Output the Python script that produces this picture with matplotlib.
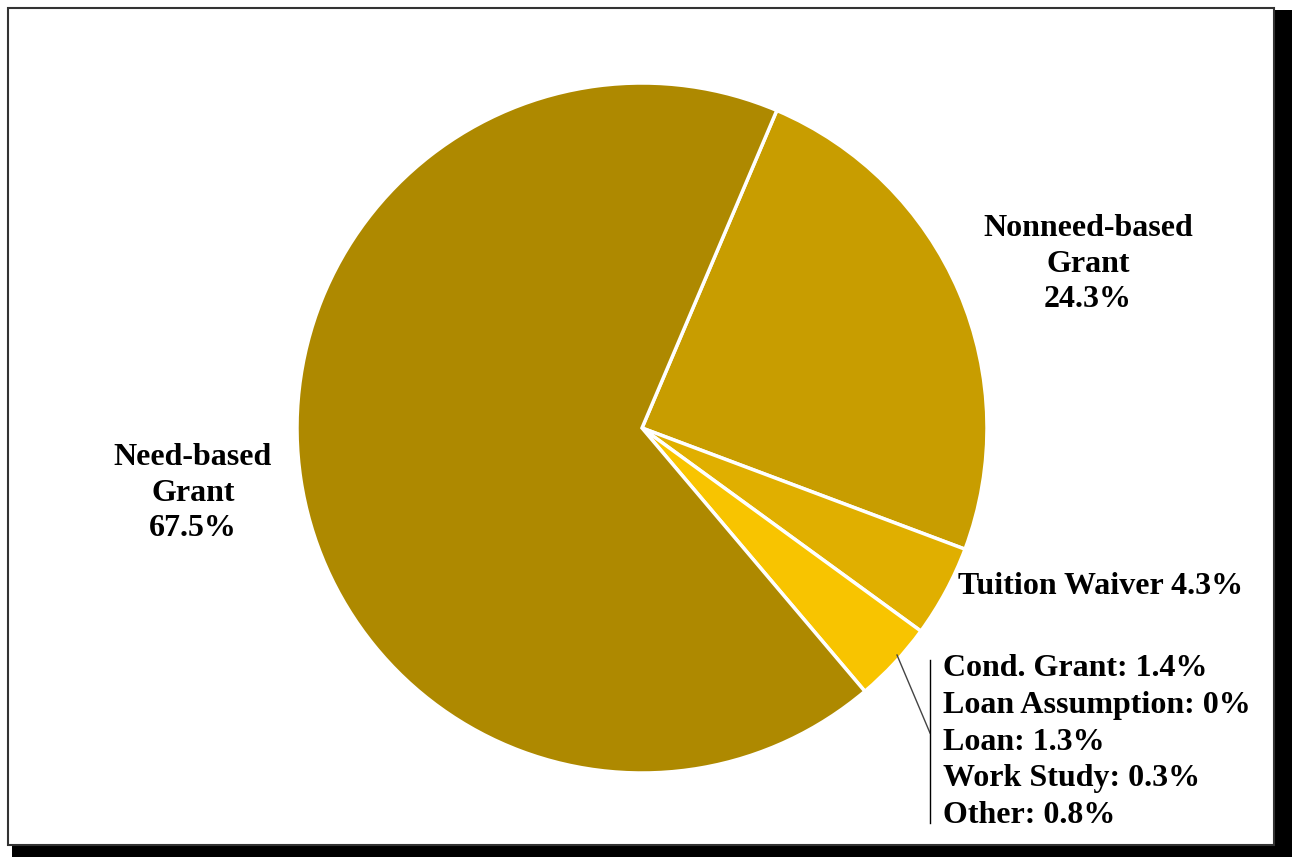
import matplotlib
matplotlib.use("Agg")
import matplotlib.pyplot as plt
from matplotlib.patches import Rectangle

# slices, going clockwise from the Nonneed-based wedge
slice_names = ["Nonneed-based Grant", "Tuition Waiver", "Small items", "Need-based Grant"]
slice_values = [24.3, 4.3, 3.8, 67.5]
slice_colors = ["#C89D00", "#E0AF00", "#F8C400", "#AE8900"]

small_labels = ["Cond. Grant", "Loan Assumption", "Loan", "Work Study", "Other"]
small_values = ["1.4%", "0%", "1.3%", "0.3%", "0.8%"]

W, H = 1293, 857
plt.rcParams['font.family'] = ['Liberation Serif', 'DejaVu Serif']

fig = plt.figure(figsize=(W / 100, H / 100), dpi=100)
ax = fig.add_axes([0, 0, 1, 1])

# frame with drop shadow
ax.add_patch(Rectangle((12, 0), 1280, 847, facecolor='black', edgecolor='none', zorder=0))
ax.add_patch(Rectangle((8, 12), 1266, 837, facecolor='white', edgecolor='#333333', lw=1.5, zorder=1))

cx, cy, r = 642, H - 428, 345
ax.pie(slice_values, colors=slice_colors, startangle=67, counterclock=False,
       center=(cx, cy), radius=r, frame=True,
       wedgeprops=dict(edgecolor='white', linewidth=2.5, zorder=2))
ax.set_xlim(0, W)
ax.set_ylim(0, H)
ax.set_aspect('equal')
ax.axis('off')

txt = dict(fontsize=23, fontweight='bold', color='black', zorder=5)
ax.text(1088, H - 264, "Nonneed-based\nGrant\n" + f"{slice_values[0]}%",
        ha='center', va='center', linespacing=1.28, **txt)
ax.text(193, H - 493, "Need-based\nGrant\n" + f"{slice_values[3]}%",
        ha='center', va='center', linespacing=1.28, **txt)
ax.text(958, H - 587, f"Tuition Waiver {slice_values[1]}%", ha='left', va='center', **txt)

block = "\n".join(f"{n}: {v}" for n, v in zip(small_labels, small_values))
ax.text(943, H - 742, block, ha='left', va='center', linespacing=1.35, **txt)

# leader line to the small slice
ax.plot([897, 930], [H - 655, H - 733], color='#444444', lw=1, zorder=4)
ax.plot([930, 930], [H - 660, H - 823], color='black', lw=1, zorder=4)

fig.savefig("out.png", dpi=100, facecolor='white')
